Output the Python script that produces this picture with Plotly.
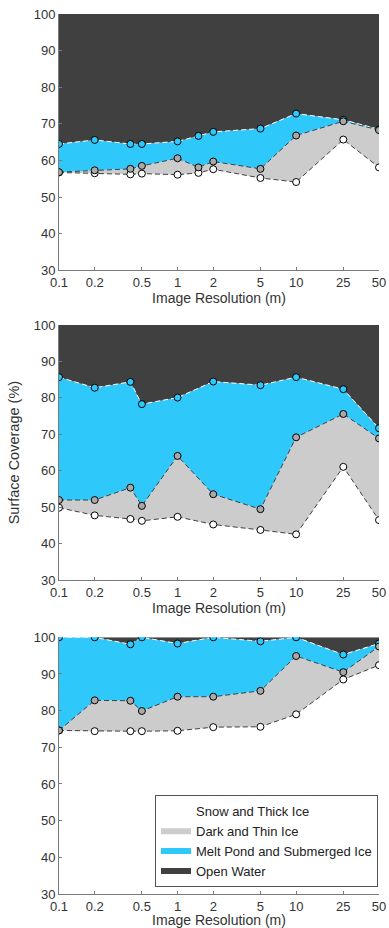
import math
import plotly.graph_objects as go

# ---------------- data (cumulative upper boundary of each class, %) ----------------
res_a = [0.1, 0.2, 0.4, 0.5, 1, 1.5, 2, 5, 10, 25, 50]
a_snow = [56.7, 56.5, 56.2, 56.4, 56.1, 56.6, 57.6, 55.2, 54.1, 65.7, 58.1]
a_dark = [56.8, 57.3, 57.7, 58.5, 60.6, 58.1, 59.7, 57.7, 66.8, 70.7, 68.3]
a_pond = [64.5, 65.6, 64.5, 64.5, 65.2, 66.7, 67.8, 68.7, 72.8, 71.1, 68.5]

res_b = [0.1, 0.2, 0.4, 0.5, 1, 2, 5, 10, 25, 50]
b_snow = [49.9, 47.8, 46.8, 46.3, 47.4, 45.3, 43.8, 42.6, 61.1, 46.5]
b_dark = [52.0, 52.0, 55.4, 50.4, 64.1, 53.6, 49.5, 69.2, 75.6, 68.9]
b_pond = [85.7, 82.8, 84.4, 78.3, 80.1, 84.5, 83.5, 85.7, 82.4, 71.7]

res_c = [0.1, 0.2, 0.4, 0.5, 1, 2, 5, 10, 25, 50]
c_snow = [74.6, 74.4, 74.4, 74.4, 74.5, 75.5, 75.6, 79.0, 88.5, 92.4]
c_dark = [74.6, 82.8, 82.7, 79.9, 83.8, 83.8, 85.4, 94.9, 90.5, 97.5]
c_pond = [100.0, 100.0, 98.1, 100.0, 98.3, 100.0, 98.9, 100.0, 95.3, 98.3]

TOTAL = 100

class_names = ["Snow and Thick Ice", "Dark and Thin Ice",
               "Melt Pond and Submerged Ice", "Open Water"]
x_ticks = [0.1, 0.2, 0.5, 1, 2, 5, 10, 25, 50]
x_ticklabels = ["0.1", "0.2", "0.5", "1", "2", "5", "10", "25", "50"]
y_ticks = [30, 40, 50, 60, 70, 80, 90, 100]

# ---------------- style ----------------
WHITE = "#ffffff"
GREY = "#cccccc"
GREY_MK = "#a9a9a9"
CYAN = "#2ec8fb"
DARK = "#404040"
FONT = "Liberation Sans, Arial, Helvetica, sans-serif"
TXT = "#333333"
AX = "#7a7a7a"

panels = [
    (res_a, a_snow, a_dark, a_pond),
    (res_b, b_snow, b_dark, b_pond),
    (res_c, c_snow, c_dark, c_pond),
]

# domains (paper coords)
domains = [[0.7088, 1.0], [0.3565, 0.6466], [0.0, 0.2917]]

fig = go.Figure()

for i, (xs, snow, dark, pond) in enumerate(panels):
    xa = "x" if i == 0 else f"x{i+1}"
    ya = "y" if i == 0 else f"y{i+1}"
    legend_on = (i == 2)
    top = [TOTAL] * len(xs)
    # fills
    fig.add_trace(go.Scatter(x=xs, y=snow, mode="none", fill="tozeroy",
                             fillcolor=WHITE, name=class_names[0],
                             showlegend=legend_on, xaxis=xa, yaxis=ya,
                             hoverinfo="skip"))
    fig.add_trace(go.Scatter(x=xs, y=dark, mode="none", fill="tonexty",
                             fillcolor=GREY, name=class_names[1],
                             showlegend=legend_on, xaxis=xa, yaxis=ya,
                             hoverinfo="skip"))
    fig.add_trace(go.Scatter(x=xs, y=pond, mode="none", fill="tonexty",
                             fillcolor=CYAN, name=class_names[2],
                             showlegend=legend_on, xaxis=xa, yaxis=ya,
                             hoverinfo="skip"))
    fig.add_trace(go.Scatter(x=xs, y=top, mode="none", fill="tonexty",
                             fillcolor=DARK, name=class_names[3],
                             showlegend=legend_on, xaxis=xa, yaxis=ya,
                             hoverinfo="skip"))
    # boundary lines with markers
    for ys, lc, mc in [(snow, DARK, WHITE), (pond, WHITE, CYAN), (dark, DARK, GREY_MK)]:
        fig.add_trace(go.Scatter(x=xs, y=ys, mode="lines+markers",
                                 line=dict(color=lc, width=1, dash="5px,3px"),
                                 marker=dict(size=7, color=mc,
                                             line=dict(color="#000000", width=1)),
                                 showlegend=False, xaxis=xa, yaxis=ya))

layout = dict(
    width=389, height=928,
    margin=dict(l=59, r=10, t=14, b=34, autoexpand=False),
    paper_bgcolor="white", plot_bgcolor="white",
    font=dict(family=FONT, size=13, color=TXT),
    showlegend=True,
    legend=dict(x=0.30, y=0.0076, xanchor="left", yanchor="bottom",
                bgcolor="white", bordercolor="#555555", borderwidth=1,
                font=dict(size=13, color="#222222"),
                traceorder="normal", itemwidth=30,
                tracegroupgap=0),
)
for i in range(3):
    xk = "xaxis" if i == 0 else f"xaxis{i+1}"
    yk = "yaxis" if i == 0 else f"yaxis{i+1}"
    ya = "y" if i == 0 else f"y{i+1}"
    xa = "x" if i == 0 else f"x{i+1}"
    layout[xk] = dict(type="log", range=[math.log10(0.1), math.log10(50)],
                      tickvals=x_ticks, ticktext=x_ticklabels,
                      ticks="inside", ticklen=3, tickcolor=AX,
                      showline=True, linecolor=AX, linewidth=1,
                      showgrid=False, zeroline=False, anchor=ya,
                      automargin=False,
                      tickfont=dict(size=13, color=TXT),
                      title=dict(text="Image Resolution (m)", standoff=0,
                                 font=dict(size=14, color=TXT)),
                      domain=[0, 1])
    layout[yk] = dict(range=[30, 100], tickvals=y_ticks,
                      ticks="inside", ticklen=3, tickcolor=AX,
                      showline=True, linecolor=AX, linewidth=1,
                      showgrid=False, zeroline=False, anchor=xa,
                      automargin=False,
                      tickfont=dict(size=13, color=TXT),
                      domain=domains[i])
    if i == 1:
        layout[yk]["title"] = dict(text="Surface Coverage (%)", standoff=10,
                                   font=dict(size=14.5, color=TXT))

fig.update_layout(**layout)
fig.write_html(
    "out.html",
    config={"displayModeBar": False},
    post_script="document.body.style.margin='0px';document.body.style.overflow='hidden';",
)
